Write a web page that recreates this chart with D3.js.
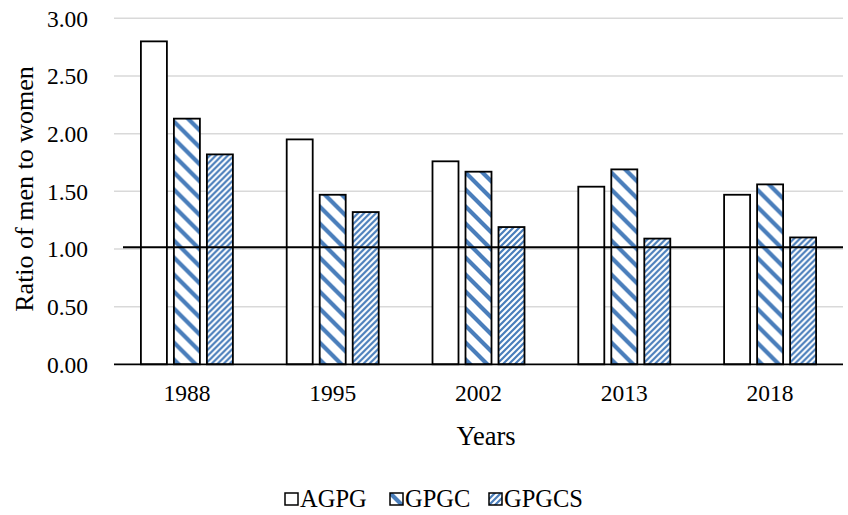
<!DOCTYPE html>
<html>
<head>
<meta charset="utf-8">
<script src="https://cdn.jsdelivr.net/npm/d3@7"></script>
<style>
  body { margin: 0; background: #fff; }
  text { font-family: "Liberation Serif", "Times New Roman", serif; fill: #000; }
</style>
</head>
<body>
<svg id="chart" width="848" height="515"></svg>
<script>
var years = ["1988", "1995", "2002", "2013", "2018"];
var seriesNames = ["AGPG", "GPGC", "GPGCS"];
var agpg = [2.80, 1.95, 1.76, 1.54, 1.47];
var gpgc = [2.13, 1.47, 1.67, 1.69, 1.56];
var gpgcs = [1.82, 1.32, 1.19, 1.09, 1.10];
var yTicks = [0, 0.5, 1, 1.5, 2, 2.5, 3];
var refValue = 1.015;

var svg = d3.select("#chart");
var blue = "#4a7ebb";

// patterns
var defs = svg.append("defs");
var p1 = defs.append("pattern")
    .attr("id", "wideDown")
    .attr("patternUnits", "userSpaceOnUse")
    .attr("width", 17).attr("height", 17);
p1.append("rect").attr("width", 17).attr("height", 17).attr("fill", "#fff");
p1.append("path")
    .attr("d", "M-4,-4L21,21M-4,13L4,21M13,-4L21,4")
    .attr("stroke", blue).attr("stroke-width", 4.2);

var p2 = defs.append("pattern")
    .attr("id", "lightUp")
    .attr("patternUnits", "userSpaceOnUse")
    .attr("width", 6).attr("height", 6);
p2.append("rect").attr("width", 6).attr("height", 6).attr("fill", "#fff");
p2.append("path")
    .attr("d", "M-2,8L8,-2M-2,2L2,-2M4,8L8,4")
    .attr("stroke", blue).attr("stroke-width", 2.2);

var fills = ["#fff", "url(#wideDown)", "url(#lightUp)"];

var plotLeft = 114, plotRight = 843, plotTop = 18.3, plotBottom = 364.3;

var x0 = d3.scaleBand().domain(years).range([plotLeft, plotRight]).padding(0);
var groupW = 99;
var x1 = d3.scaleBand().domain(seriesNames).range([0, groupW])
    .paddingInner(0.2121).paddingOuter(0.1061);
var y = d3.scaleLinear().domain([0, 3]).range([plotBottom, plotTop]);

// gridlines
svg.append("g").selectAll("line")
  .data(yTicks.filter(function(d) { return d > 0; }))
  .enter().append("line")
    .attr("x1", plotLeft).attr("x2", plotRight)
    .attr("y1", function(d) { return y(d); })
    .attr("y2", function(d) { return y(d); })
    .attr("stroke", "#d9d9d9").attr("stroke-width", 1.5);

// y tick labels
svg.append("g").selectAll("text")
  .data(yTicks)
  .enter().append("text")
    .attr("x", 88)
    .attr("y", function(d) { return y(d); })
    .attr("dy", "0.35em")
    .attr("text-anchor", "end")
    .style("font-size", "23.5px")
    .text(function(d) { return d3.format(".2f")(d); });

// bars
var data = [agpg, gpgc, gpgcs];
var groups = svg.append("g").selectAll("g")
  .data(years)
  .enter().append("g")
    .attr("transform", function(d) {
      return "translate(" + (x0(d) + (x0.bandwidth() - groupW) / 2) + ",0)";
    });

groups.selectAll("rect")
  .data(function(d, i) {
    return seriesNames.map(function(s, j) { return { s: s, j: j, v: data[j][i] }; });
  })
  .enter().append("rect")
    .attr("x", function(d) { return x1(d.s); })
    .attr("width", x1.bandwidth())
    .attr("y", function(d) { return y(d.v); })
    .attr("height", function(d) { return y(0) - y(d.v); })
    .attr("fill", function(d) { return fills[d.j]; })
    .attr("stroke", "#000").attr("stroke-width", 1.8);

// x axis line
svg.append("line")
    .attr("x1", plotLeft).attr("x2", plotRight)
    .attr("y1", y(0)).attr("y2", y(0))
    .attr("stroke", "#000").attr("stroke-width", 1.8);

// reference line
svg.append("line")
    .attr("x1", 123).attr("x2", plotRight)
    .attr("y1", y(refValue)).attr("y2", y(refValue))
    .attr("stroke", "#000").attr("stroke-width", 1.8);

// x labels
svg.append("g").selectAll("text")
  .data(years)
  .enter().append("text")
    .attr("x", function(d) { return x0(d) + x0.bandwidth() / 2; })
    .attr("y", 401)
    .attr("text-anchor", "middle")
    .style("font-size", "23.5px")
    .text(function(d) { return d; });

// axis titles
svg.append("text")
    .attr("x", 486).attr("y", 445)
    .attr("text-anchor", "middle")
    .style("font-size", "26.5px")
    .text("Years");

svg.append("text")
    .attr("transform", "translate(33,189) rotate(-90)")
    .attr("text-anchor", "middle")
    .style("font-size", "26px")
    .text("Ratio of men to women");

// legend
var legendX = [285, 390, 489];
var lg = svg.append("g").selectAll("g")
  .data(seriesNames)
  .enter().append("g")
    .attr("transform", function(d, i) { return "translate(" + legendX[i] + ",493)"; });
lg.append("rect")
    .attr("width", 13).attr("height", 12)
    .attr("fill", function(d, i) { return fills[i]; })
    .attr("stroke", "#000").attr("stroke-width", 1.5);
lg.append("text")
    .attr("x", 15).attr("y", 13.5)
    .style("font-size", "24.5px")
    .text(function(d) { return d; });
</script>
</body>
</html>
